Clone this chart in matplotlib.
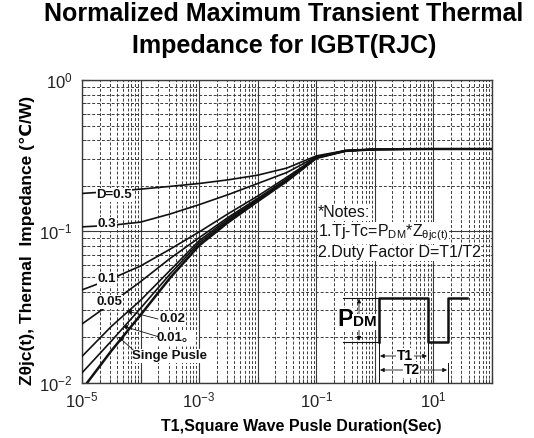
import math
import matplotlib
matplotlib.use('Agg')
import matplotlib.pyplot as plt
from matplotlib.ticker import LogLocator, FuncFormatter, NullFormatter
from matplotlib.lines import Line2D

plt.rcParams['font.family'] = ['Liberation Sans', 'DejaVu Sans', 'Noto Sans CJK SC']
plt.rcParams['mathtext.fontset'] = 'custom'
plt.rcParams['mathtext.rm'] = 'Liberation Sans'
plt.rcParams['mathtext.it'] = 'Liberation Sans:italic'
plt.rcParams['mathtext.bf'] = 'Liberation Sans:bold'

# ---------------- data ----------------
t = [1e-5, 3.16e-5, 1e-4, 3.16e-4, 1e-3, 3.16e-3, 1e-2, 3.16e-2, 1e-1, 3.16e-1, 1, 10, 100]
z_d05 = [0.178, 0.183, 0.190, 0.198, 0.207, 0.219, 0.235, 0.262, 0.315, 0.342, 0.348, 0.35, 0.35]
z_d03 = [0.107, 0.1095, 0.115, 0.130, 0.150, 0.175, 0.207, 0.245, 0.311, 0.341, 0.348, 0.35, 0.35]
z_d01 = [0.041, 0.0485, 0.059, 0.076, 0.099, 0.131, 0.171, 0.228, 0.308, 0.340, 0.348, 0.35, 0.35]
z_d005 = [0.0244, 0.0335, 0.0465, 0.066, 0.0907, 0.124, 0.165, 0.222, 0.307, 0.340, 0.348, 0.35, 0.35]
z_d002 = [0.0149, 0.0235, 0.035, 0.055, 0.0867, 0.121, 0.162, 0.220, 0.306, 0.340, 0.348, 0.35, 0.35]
z_d001 = [0.0116, 0.0188, 0.031, 0.052, 0.084, 0.118, 0.160, 0.218, 0.305, 0.340, 0.348, 0.35, 0.35]
t_single = [1.23e-5, 3.16e-5, 1e-4, 3.16e-4, 1e-3, 3.16e-3, 1e-2, 3.16e-2, 1e-1, 3.16e-1, 1, 10, 100]
z_single = [0.010, 0.0162, 0.028, 0.049, 0.0807, 0.115, 0.158, 0.215, 0.305, 0.340, 0.348, 0.35, 0.35]

x_label_exponents = [-5, -3, -1, 1]

W, H = 534, 438
fig = plt.figure(figsize=(W / 100, H / 100), dpi=100)
ax = fig.add_axes([82 / W, 1 - 382.6 / H, 410 / W, 302.6 / H])


def P(x, y):
    return (x / W, 1 - y / H)


ax.set_xscale('log')
ax.set_yscale('log')
ax.set_xlim(1e-5, 1e2)
ax.set_ylim(1e-2, 1e0)

gc = '#3a3a3a'
ax.xaxis.set_major_locator(LogLocator(base=10, numticks=20))
ax.xaxis.set_minor_locator(LogLocator(base=10, subs=range(2, 10), numticks=20))
ax.yaxis.set_major_locator(LogLocator(base=10, numticks=20))
ax.yaxis.set_minor_locator(LogLocator(base=10, subs=range(2, 10), numticks=20))


def xfmt(v, pos):
    e = int(round(math.log10(v)))
    return r'$10^{%d}$' % e if e in x_label_exponents else ''


def yfmt(v, pos):
    e = int(round(math.log10(v)))
    return r'$10^{%d}$' % e


ax.xaxis.set_major_formatter(FuncFormatter(xfmt))
ax.yaxis.set_major_formatter(FuncFormatter(yfmt))
ax.xaxis.set_minor_formatter(NullFormatter())
ax.yaxis.set_minor_formatter(NullFormatter())
ax.tick_params(which='both', direction='in', colors=gc, labelcolor='#222222', labelsize=12)
ax.tick_params(which='major', length=5, width=0.8)
ax.tick_params(which='minor', length=3, width=0.7)
ax.tick_params(axis='x', pad=6)
ax.tick_params(axis='y', pad=7)
ax.grid(which='major', color=gc, lw=0.8, ls='-')
ax.grid(which='minor', color=gc, lw=0.7, ls=(0, (3, 2)))
for s in ax.spines.values():
    s.set_color(gc)
    s.set_linewidth(1.0)

lc = '#111111'
for z in [z_d05, z_d03, z_d01, z_d005, z_d002, z_d001]:
    ax.plot(t, z, color=lc, lw=1.2, zorder=3)
ax.plot(t_single, z_single, color=lc, lw=1.8, zorder=3)

# curve labels
wb = dict(facecolor='white', edgecolor='none', pad=0.5)
lab = dict(fontsize=9.5, fontweight='bold', ha='center', va='center',
           transform=fig.transFigure, zorder=5, bbox=wb, color='#111111')
ax.text(*P(114, 195), 'D=0.5', **lab)
ax.text(*P(107, 224), '0.3', **lab)
ax.text(*P(107, 279), '0.1', **lab)
ax.text(*P(109, 302), '0.05', **lab)
ax.text(*P(172, 319), '0.02', **lab)
ax.text(*P(176, 338), '0.01。', **lab)
ax.text(*P(170, 356), 'Singe Pusle', **lab)

ap = dict(arrowstyle='-|>', lw=0.6, color='#111111', mutation_scale=7, shrinkA=0, shrinkB=0)
for (x0, y0), (x1, y1) in [((158, 319), (126.7, 311)),
                           ((158.3, 336.7), (122.7, 326)),
                           ((133.3, 350), (118.3, 336.7))]:
    ax.annotate('', xy=P(x1, y1), xycoords='figure fraction',
                xytext=P(x0, y0), textcoords='figure fraction', arrowprops=ap, zorder=5)

# notes
nt = dict(fontsize=11.5, ha='left', va='center', transform=fig.transFigure, zorder=5,
          bbox=dict(facecolor='white', edgecolor='none', pad=0.3), color='#111111')
ax.text(*P(318, 213), '*Notes:', **nt)
ax.text(*P(318, 233), r'1.Tj-Tc=P$_{\mathregular{DM}}$*Z$_{\mathregular{\theta jc(t)}}$', **nt)
ax.text(*P(318, 253), '2.Duty Factor D=T1/T2', **nt)


# square-wave inset
def line(xs, ys, lw):
    pts = [P(x, y) for x, y in zip(xs, ys)]
    ax.add_line(Line2D([p[0] for p in pts], [p[1] for p in pts], transform=fig.transFigure,
                       color='#111111', lw=lw, zorder=4, clip_on=False))


yt, yb = 297.7, 341.7
line([379, 379, 427.7, 427.7, 447.7, 447.7, 466.7], [yb, yt, yt, yb, yb, yt, yt], 1.8)
line([343.3, 379], [yt, yt], 0.8)
line([343.3, 379], [yb, yb], 0.8)
line([379, 379], [343, 382], 0.7)
line([427.7, 427.7], [343, 360], 0.7)
line([447.7, 447.7], [363, 382], 0.7)

ap2 = dict(arrowstyle='<|-|>', lw=0.6, color='#111111', mutation_scale=6, shrinkA=0, shrinkB=0)
ax.annotate('', xy=P(359, yt + 1), xycoords='figure fraction', xytext=P(359, yb - 1),
            textcoords='figure fraction', arrowprops=ap2, zorder=4)
ax.annotate('', xy=P(380, 356), xycoords='figure fraction', xytext=P(427, 356),
            textcoords='figure fraction', arrowprops=ap2, zorder=4)
ax.annotate('', xy=P(380, 370), xycoords='figure fraction', xytext=P(447, 370),
            textcoords='figure fraction', arrowprops=ap2, zorder=4)
tb = dict(facecolor='white', edgecolor='none', pad=0.4)
ax.text(*P(337.5, 326), 'P', fontsize=17, fontweight='bold', ha='left', va='baseline',
        transform=fig.transFigure, zorder=5, bbox=tb)
ax.text(*P(352.5, 326), 'DM', fontsize=11, fontweight='bold', ha='left', va='baseline',
        transform=fig.transFigure, zorder=5, bbox=tb)
ax.text(*P(405, 356), 'T1', fontsize=10, fontweight='bold', ha='center', va='center',
        transform=fig.transFigure, zorder=5, bbox=tb)
ax.text(*P(411.7, 370), 'T2', fontsize=10, fontweight='bold', ha='center', va='center',
        transform=fig.transFigure, zorder=5, bbox=tb)

# titles and axis labels
fig.text(*P(284, 21), 'Normalized Maximum Transient Thermal', fontsize=18, fontweight='bold',
         ha='center', va='baseline')
fig.text(*P(284, 53), 'Impedance for IGBT(RJC)', fontsize=18, fontweight='bold',
         ha='center', va='baseline')
fig.text(*P(301, 427), 'T1,Square Wave Pusle Duration(Sec)', fontsize=11.5, fontweight='bold',
         ha='center', va='center')
fig.text(*P(27, 240), 'Z\u03b8jc(t), Thermal  Impedance (\u2103/W)', fontsize=12.5,
         fontweight='bold', ha='center', va='center', rotation=90,
         family=['Liberation Sans', 'DejaVu Sans'])

fig.savefig('out.png', dpi=100)
